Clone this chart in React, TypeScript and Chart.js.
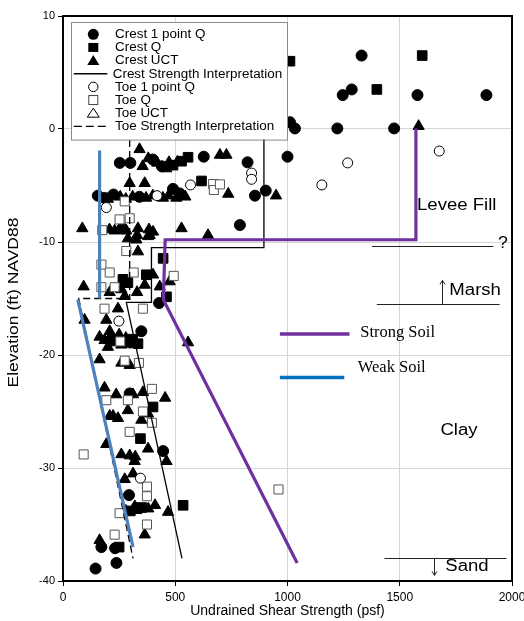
import React, { useEffect, useRef } from "react";
import { Chart, registerables } from "chart.js";

Chart.register(...registerables);

type P = [number, number];

const SANS = "'Liberation Sans', Arial, Helvetica, sans-serif";
const SERIF = "'Liberation Serif', 'Times New Roman', serif";

// ---------- data (psf, elevation ft) ----------
const crestOnePointQ: P[] = [
  [1330, 6.5], [1246, 3.0], [1286, 3.5], [1579, 3.0], [1886, 3.0],
  [1011, 0.6], [1033, 0.05], [1222, 0.05], [1475, 0.05], [1000, -2.45],
  [253, -3.0], [300, -3.0], [400, -2.7], [440, -3.3], [627, -2.45], [822, -2.95],
  [855, -5.9], [903, -5.45], [788, -8.5],
  [155, -5.9], [185, -6.1], [225, -5.8], [340, -6.0], [490, -5.3], [520, -5.7],
  [264, -8.8],
  [428, -15.4], [349, -17.9], [215, -18.6], [300, -18.9],
  [297, -23.4], [446, -28.5], [294, -32.4],
  [171, -37.0], [232, -37.1], [145, -38.9], [238, -38.4],
];

const crestQ: P[] = [
  [1600, 6.5], [1011, 6.0], [1398, 3.5],
  [557, -2.5], [528, -2.85], [490, -3.2], [617, -4.6],
  [446, -11.45], [371, -12.9], [267, -13.3], [289, -13.6], [461, -14.85],
  [334, -19.0], [310, -18.6], [401, -24.6], [345, -27.4], [535, -33.3],
  [330, -33.6], [300, -33.8], [350, -33.5], [250, -37.0],
];

const crestUCT: P[] = [
  [1584, 0.25],
  [341, -1.8], [699, -2.3], [728, -2.3], [472, -2.95], [380, -2.6], [355, -3.3], [420, -3.0], [460, -3.5], [510, -2.9],
  [736, -5.75], [949, -5.9], [297, -4.8], [364, -4.8],
  [200, -6.2], [255, -6.0], [280, -6.2], [310, -6.0], [370, -6.1], [400, -5.9], [445, -6.1], [470, -5.9], [505, -6.1], [545, -6.0],
  [86, -8.8], [207, -8.9], [230, -9.0], [252, -8.9], [282, -9.0], [334, -8.8], [383, -8.9], [401, -9.1], [330, -9.4], [386, -9.4], [528, -8.8], [646, -9.4],
  [289, -9.7], [327, -9.8], [379, -9.5],
  [334, -10.85], [401, -12.9], [92, -13.95], [208, -14.45], [275, -14.8], [330, -14.45], [364, -13.8], [431, -13.95], [475, -13.5], [260, -14.2],
  [245, -15.9], [96, -16.9], [193, -16.9], [208, -17.9],
  [163, -18.4], [185, -18.7], [230, -18.9], [260, -19.1], [280, -18.5], [200, -19.3], [250, -18.2], [557, -18.9],
  [163, -20.4], [260, -20.7], [297, -20.9],
  [185, -22.9], [237, -23.5], [312, -23.5], [356, -23.3], [455, -23.8], [289, -24.9], [223, -25.4], [245, -25.6], [208, -25.4], [349, -25.75], [379, -25.2],
  [193, -27.9], [379, -28.3], [260, -28.8], [297, -28.9], [322, -29.0], [319, -29.4], [461, -29.4], [312, -30.5], [275, -31.0],
  [280, -33.8], [320, -33.4], [380, -33.6], [410, -33.3], [468, -33.9], [364, -35.9], [163, -36.4],
];

const crestStrength: P[] = [
  [895, 0], [895, -10.5], [394, -10.5], [394, -15.35], [282, -15.35], [530, -38.0],
];

const toeOnePointQ: P[] = [
  [1676, -1.95], [1268, -3.0], [1153, -4.95], [840, -3.9], [840, -4.45],
  [568, -4.95], [419, -5.9], [193, -6.95], [249, -17.0], [345, -30.9],
];

const toeQ: P[] = [
  [669, -4.87], [672, -5.4], [699, -4.9], [275, -6.4], [252, -8.0], [297, -7.9], [175, -8.95],
  [282, -10.8], [171, -12.0], [208, -12.7], [315, -12.7], [493, -13.0], [171, -14.0], [230, -14.0],
  [185, -15.9], [356, -15.9], [255, -18.8], [275, -20.5], [338, -20.7], [396, -23.0], [193, -24.0],
  [289, -24.0], [356, -25.0], [396, -26.0], [297, -26.8], [92, -28.8], [374, -31.65],
  [374, -32.5], [960, -31.9], [252, -34.0], [374, -35.0], [230, -35.9],
];

const toeUCT: P[] = [];

const toeStrength: P[] = [
  [297, 0], [297, -15.0], [70, -15.0], [312, -38.0],
];

const strongSoil: P[] = [
  [1572, 0.05], [1572, -9.8], [455, -9.8], [447, -15.1], [1043, -38.4],
];

const weakSoilUpper: P[] = [
  [163, -1.9], [163, -15.0],
];

const weakSoilLower: P[] = [
  [66, -15.1], [312, -37.0],
];

const xTickValues = [0, 500, 1000, 1500, 2000];
const yTickValues = [10, 0, -10, -20, -30, -40];

const xAxisTitle = "Undrained Shear Strength (psf)";
const yAxisTitle = "Elevation (ft) NAVD88";

const legendLabels = [
  "Crest 1 point Q",
  "Crest Q",
  "Crest UCT",
  "Crest Strength Interpretation",
  "Toe 1 point Q",
  "Toe Q",
  "Toe UCT",
  "Toe Strength Interpretation",
];
const legendKinds = ["circle", "rect", "triangle", "line", "ocircle", "orect", "otriangle", "dash"];

// zone annotations (data units)
const zoneLabels = ["Levee Fill", "Marsh", "Clay", "Sand"];
const zoneLabelPsf = [1577, 1721, 1681, 1703];
const zoneLabelElev = [-6.8, -14.3, -26.7, -38.7];
const boundaryElev = [-10.35, -15.5, -38.0];
const boundaryFromPsf = [1376, 1398, 1432];
const boundaryToPsf = [1917, 1945, 1975];

const soilKeyLabels = ["Strong Soil", "Weak Soil"];
const soilKeyColors = ["#7030a0", "#0070c0"];
const soilKeyLineFrom = [966, 966];
const soilKeyLineTo = [1276, 1253];
const soilKeyLineElev = [-18.14, -22.0];
const soilKeyTextPsf = [1324, 1313];
const soilKeyTextElev = [-18.0, -21.15];

// ---------- helpers ----------
const toXY = (pts: P[]) => pts.map(([x, y]) => ({ x, y }));

function stretchText(ctx: CanvasRenderingContext2D, text: string, x: number, y: number, font: string, sx: number) {
  ctx.save();
  ctx.font = font;
  ctx.textBaseline = "middle";
  ctx.textAlign = "left";
  ctx.translate(x, y);
  ctx.scale(sx, 1);
  ctx.fillText(text, 0, 0);
  ctx.restore();
}

function drawSymbol(ctx: CanvasRenderingContext2D, kind: string, cx: number, cy: number) {
  ctx.save();
  ctx.lineWidth = 1;
  ctx.strokeStyle = "#000";
  ctx.fillStyle = "#000";
  if (kind === "circle") {
    ctx.beginPath();
    ctx.arc(cx, cy, 5.5, 0, Math.PI * 2);
    ctx.fill();
  } else if (kind === "rect") {
    ctx.fillRect(cx - 5, cy - 4.5, 10, 9);
  } else if (kind === "triangle") {
    ctx.beginPath();
    ctx.moveTo(cx, cy - 5.5);
    ctx.lineTo(cx + 6, cy + 4.5);
    ctx.lineTo(cx - 6, cy + 4.5);
    ctx.closePath();
    ctx.fill();
  } else if (kind === "ocircle") {
    ctx.fillStyle = "#fff";
    ctx.beginPath();
    ctx.arc(cx, cy, 4.7, 0, Math.PI * 2);
    ctx.fill();
    ctx.stroke();
  } else if (kind === "orect") {
    ctx.fillStyle = "#fff";
    ctx.strokeStyle = "#444";
    ctx.fillRect(cx - 4.5, cy - 4.5, 9, 9);
    ctx.strokeRect(cx - 4.5, cy - 4.5, 9, 9);
  } else if (kind === "otriangle") {
    ctx.fillStyle = "#fff";
    ctx.beginPath();
    ctx.moveTo(cx, cy - 5);
    ctx.lineTo(cx + 6, cy + 4);
    ctx.lineTo(cx - 6, cy + 4);
    ctx.closePath();
    ctx.fill();
    ctx.stroke();
  } else if (kind === "line" || kind === "dash") {
    ctx.lineWidth = 1.3;
    if (kind === "dash") ctx.setLineDash([8, 4]);
    ctx.beginPath();
    ctx.moveTo(cx - 19.5, cy);
    ctx.lineTo(cx + 14, cy);
    ctx.stroke();
  }
  ctx.restore();
}

const framePlugin = {
  id: "frame",
  afterDatasetsDraw(chart: any) {
    const { ctx, chartArea: a } = chart;
    ctx.save();
    ctx.strokeStyle = "#000";
    ctx.lineWidth = 2;
    ctx.strokeRect(a.left, a.top, a.right - a.left, a.bottom - a.top);
    // y axis title (stretched along its length like the reference)
    ctx.fillStyle = "#000";
    ctx.translate(14, (a.top + a.bottom) / 2 + 4);
    ctx.rotate(-Math.PI / 2);
    ctx.scale(1.25, 1);
    ctx.font = `14px ${SANS}`;
    ctx.textAlign = "center";
    ctx.textBaseline = "middle";
    ctx.fillText(yAxisTitle, 0, 0);
    ctx.restore();
  },
};

const annotationPlugin = {
  id: "zones",
  afterDatasetsDraw(chart: any) {
    const { ctx } = chart;
    const xs = chart.scales.x;
    const ys = chart.scales.y;
    const X = (v: number) => xs.getPixelForValue(v);
    const Y = (v: number) => ys.getPixelForValue(v);
    ctx.save();
    ctx.fillStyle = "#000";
    ctx.strokeStyle = "#222";
    ctx.lineWidth = 1;
    boundaryElev.forEach((e, i) => {
      ctx.beginPath();
      ctx.moveTo(X(boundaryFromPsf[i]), Math.round(Y(e)) + 0.5);
      ctx.lineTo(X(boundaryToPsf[i]), Math.round(Y(e)) + 0.5);
      ctx.stroke();
    });
    const arrow = (psf: number, e0: number, e1: number) => {
      const x = Math.round(X(psf)) + 0.5;
      const y0 = Y(e0);
      const y1 = Y(e1);
      const dir = y1 < y0 ? 1 : -1;
      ctx.beginPath();
      ctx.moveTo(x, y0);
      ctx.lineTo(x, y1);
      ctx.moveTo(x - 2.5, y1 + dir * 4);
      ctx.lineTo(x, y1);
      ctx.lineTo(x + 2.5, y1 + dir * 4);
      ctx.stroke();
    };
    arrow(1688, boundaryElev[1], -13.4);
    arrow(1653, boundaryElev[2], -39.5);
    zoneLabels.forEach((t, i) => {
      stretchText(ctx, t, X(zoneLabelPsf[i]), Y(zoneLabelElev[i]), `16px ${SANS}`, 1.16);
    });
    stretchText(ctx, "?", X(1938), Y(-10.1), `16px ${SANS}`, 1.1);
    soilKeyLabels.forEach((t, i) => {
      ctx.strokeStyle = soilKeyColors[i];
      ctx.lineWidth = 3.5;
      ctx.beginPath();
      ctx.moveTo(X(soilKeyLineFrom[i]), Y(soilKeyLineElev[i]));
      ctx.lineTo(X(soilKeyLineTo[i]), Y(soilKeyLineElev[i]));
      ctx.stroke();
      stretchText(ctx, t, X(soilKeyTextPsf[i]), Y(soilKeyTextElev[i]), `16.5px ${SERIF}`, 1.0);
    });
    ctx.restore();
  },
};

const legendPlugin = {
  id: "boxLegend",
  afterDatasetsDraw(chart: any) {
    const { ctx, chartArea: a } = chart;
    const bx = a.left + 8;
    const by = a.top + 5.7;
    const bw = 216;
    const bh = 117.6;
    ctx.save();
    ctx.fillStyle = "#fff";
    ctx.fillRect(bx, by, bw, bh);
    ctx.strokeStyle = "#8a8a8a";
    ctx.lineWidth = 1;
    ctx.strokeRect(Math.round(bx) + 0.5, Math.round(by) + 0.5, bw, bh);
    legendLabels.forEach((label, i) => {
      const cy = by + 12.6 + i * 13.15;
      drawSymbol(ctx, legendKinds[i], bx + 22.3, cy);
      ctx.fillStyle = "#000";
      const tx = legendKinds[i] === "line" ? bx + 41.7 : bx + 44;
      stretchText(ctx, label, tx, cy + 0.5, `12px ${SANS}`, 1.12);
    });
    ctx.restore();
  },
};

export default function App() {
  const ref = useRef<HTMLCanvasElement>(null);

  useEffect(() => {
    const canvas = ref.current;
    if (!canvas) return;

    const points = (label: string, pts: P[], style: string, r: number, fill: string, stroke: string, bw: number, order: number) => ({
      label,
      data: toXY(pts),
      showLine: false,
      pointStyle: style,
      pointRadius: r,
      pointHoverRadius: r,
      backgroundColor: fill,
      borderColor: stroke,
      pointBackgroundColor: fill,
      pointBorderColor: stroke,
      pointBorderWidth: bw,
      order,
    });
    const line = (label: string, pts: P[], color: string, w: number, dash: number[], order: number) => ({
      label,
      data: toXY(pts),
      showLine: true,
      borderColor: color,
      backgroundColor: color,
      borderWidth: w,
      borderDash: dash,
      pointRadius: 0,
      pointHoverRadius: 0,
      fill: false,
      tension: 0,
      order,
    });

    const chart = new Chart(canvas, {
      type: "scatter",
      data: {
        datasets: [
          line("Strong Soil", strongSoil, "#7030a0", 3.2, [], 0),
          line("Weak Soil", weakSoilUpper, "#4f81bd", 3.2, [], 0),
          line("Weak Soil lower", weakSoilLower, "#4f81bd", 3.2, [], 0),
          line("Crest Strength Interpretation", crestStrength, "#000", 1.3, [], 1),
          line("Toe Strength Interpretation", toeStrength, "#000", 1.3, [7, 4], 1),
          points("Toe 1 point Q", toeOnePointQ, "circle", 5, "#fff", "#000", 1, 2),
          points("Toe Q", toeQ, "rect", 6.4, "#fff", "#555", 1, 2),
          points("Toe UCT", toeUCT, "triangle", 6.5, "#fff", "#000", 1, 2),
          points("Crest 1 point Q", crestOnePointQ, "circle", 5.5, "#000", "#000", 1, 3),
          points("Crest Q", crestQ, "rect", 6.8, "#000", "#000", 1, 3),
          points("Crest UCT", crestUCT, "triangle", 6.5, "#000", "#000", 1, 3),
        ] as any,
      },
      options: {
        animation: false,
        responsive: false,
        devicePixelRatio: 1,
        layout: { autoPadding: false, padding: { top: 16, right: 12, left: 0, bottom: 0 } },
        plugins: { legend: { display: false }, tooltip: { enabled: false } },
        scales: {
          x: {
            type: "linear",
            min: 0,
            max: 2000,
            afterBuildTicks: (s: any) => {
              s.ticks = xTickValues.map((v) => ({ value: v }));
            },
            ticks: {
              color: "#000",
              font: { size: 12, family: SANS },
              maxRotation: 0,
              autoSkip: false,
              padding: 4,
              callback: (v: any) => String(v),
            },
            grid: { color: "#d6d6d6", tickColor: "#000", tickLength: 5, lineWidth: 1 },
            border: { display: false },
            title: {
              display: true,
              text: xAxisTitle,
              color: "#000",
              font: { size: 14, family: SANS },
              padding: { top: 0, bottom: 1 },
            },
            afterFit: (s: any) => {
              s.height = 40;
              s.paddingLeft = 0;
              s.paddingRight = 0;
            },
          },
          y: {
            type: "linear",
            min: -40,
            max: 10,
            afterBuildTicks: (s: any) => {
              s.ticks = yTickValues.slice().reverse().map((v) => ({ value: v }));
            },
            ticks: {
              color: "#000",
              font: { size: 11, family: SANS },
              padding: 3,
              autoSkip: false,
              callback: (v: any) => String(v),
            },
            grid: { color: "#d6d6d6", tickColor: "#000", tickLength: 5, lineWidth: 1 },
            border: { display: false },
            title: { display: false },
            afterFit: (s: any) => {
              s.width = 63;
              s.paddingTop = 0;
              s.paddingBottom = 0;
            },
          },
        },
      } as any,
      plugins: [framePlugin, annotationPlugin, legendPlugin],
    });

    return () => chart.destroy();
  }, []);

  return (
    <div style={{ position: "fixed", left: 0, top: 0, width: 524, height: 621, background: "#fff" }}>
      <canvas ref={ref} width={524} height={621} style={{ display: "block", width: 524, height: 621 }} />
    </div>
  );
}
